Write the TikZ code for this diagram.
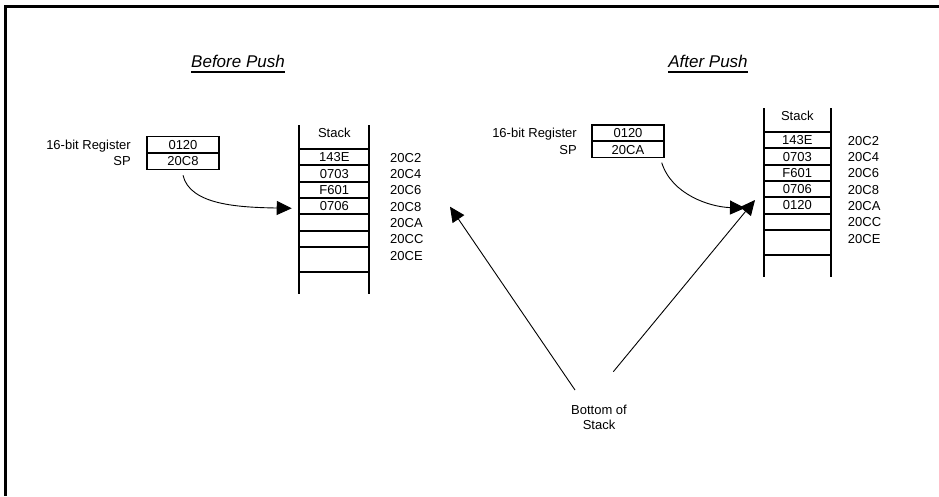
\documentclass[tikz,border=0pt]{standalone}
\usepackage{fontspec}
\setmainfont{Liberation Sans}
\usetikzlibrary{arrows.meta,positioning,calc}

\tikzset{
  lbl/.style={inner sep=0pt, text height=9.4pt, text depth=0pt},
  regcell/.style={draw, line width=1.5pt, minimum width=72pt, minimum height=16.4pt,
    inner sep=0pt, outer sep=0pt, text height=9.4pt, text depth=0pt},
  stackline/.style={line width=2pt},
  ptr/.style={line width=0.9pt, -{Triangle[length=15pt,width=14pt]}},
  title/.style={inner sep=0pt, font=\fontsize{17}{20}\selectfont\itshape},
}

\begin{document}
\begin{tikzpicture}[x=1pt, y=-1pt, font=\fontsize{13}{15}\selectfont]
  \useasboundingbox (0,0) rectangle (939,496);
  % frame, only its top and left edges are on the page
  \draw[line width=3pt] (939,6.2) -- (5.5,6.2) -- (5.5,496);

  % titles
  \node[title, anchor=base] (tbefore) at (238,67) {Before Push};
  \node[title, anchor=base] (tafter) at (708,67) {After Push};
  \draw[line width=1.3pt] ([yshift=-5pt]tbefore.base west) -- ([yshift=-5pt]tbefore.base east);
  \draw[line width=1.3pt] ([yshift=-5pt]tafter.base west) -- ([yshift=-5pt]tafter.base east);

  % registers before push
  \node[regcell] (lreg) at (183,144.7) {0120};
  \node[regcell, below=0pt of lreg] (lsp) {20C8};
  \node[lbl, left=16pt of lreg] {16-bit Register};
  \node[lbl, left=16pt of lsp] {SP};

  % registers after push
  \node[regcell] (rreg) at (628,133) {0120};
  \node[regcell, below=0pt of rreg] (rsp) {20CA};
  \node[lbl, left=15pt of rreg] {16-bit Register};
  \node[lbl, left=15pt of rsp] {SP};

  % stack before push
  \begin{scope}[shift={(299.3,0)}]
    \draw[stackline] (0,125) -- (0,294) (70,125) -- (70,294);
    \foreach \i in {0,...,6}
      \draw[stackline] (0,149+16.3*\i) -- (70,149+16.3*\i);
    \draw[stackline] (0,272) -- (70,272);
    \node[lbl] (lhead) at (35,132.5) {Stack};
    \foreach \v [count=\i] in {143E,0703,F601,0706}
      \node[lbl] (lcell\i) at (35,140.7+16.3*\i) {\v};
    \foreach \a [count=\i from 0] in {20C2,20C4,20C6,20C8,20CA,20CC,20CE}
      \node[lbl, anchor=west] (laddr\i) at (90.7,157.5+16.3*\i) {\a};
    \coordinate (lin) at (-7.6,208.3);
  \end{scope}

  % stack after push
  \begin{scope}[shift={(764,-17)}]
    \draw[stackline] (0,125) -- (0,294) (66.7,125) -- (66.7,294);
    \foreach \i in {0,...,6}
      \draw[stackline] (0,149+16.3*\i) -- (66.7,149+16.3*\i);
    \draw[stackline] (0,272) -- (66.7,272);
    \node[lbl] (rhead) at (33.3,132.5) {Stack};
    \foreach \v [count=\i] in {143E,0703,F601,0706,0120}
      \node[lbl] (rcell\i) at (33.3,140.7+16.3*\i) {\v};
    \foreach \a [count=\i from 0] in {20C2,20C4,20C6,20C8,20CA,20CC,20CE}
      \node[lbl, anchor=west] (raddr\i) at (83.7,157.5+16.3*\i) {\a};
    \coordinate (rin) at (-19,225);
    \coordinate (rtop) at (-9,217);
  \end{scope}

  % stack pointers
  \draw[ptr] ($(lsp.south)+(0,6)$) .. controls +(7,30) and +(-52,-1) .. (lin);
  \draw[ptr] ($(rsp.south east)+(-2.3,5)$) .. controls +(10,32) and +(-35,-1) .. (rin);

  % bottom of stack
  \node[inner sep=0pt, align=center] (bottom) at (599,417.5) {Bottom of\\Stack};
  \coordinate (bl) at (575,390);
  \coordinate (br) at (613.3,371.7);
  \coordinate (ltop) at (450,206.7);
  \draw[ptr] (bl) -- (ltop);
  \draw[ptr] (br) -- (rtop);
\end{tikzpicture}
\end{document}
